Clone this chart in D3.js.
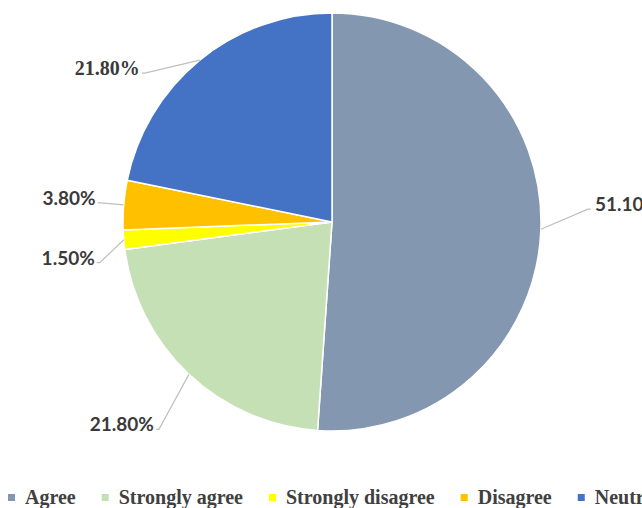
<!DOCTYPE html>
<html>
<head>
<meta charset="utf-8">
<script src="https://cdn.jsdelivr.net/npm/d3@7/dist/d3.min.js"></script>
<style>
  html, body { margin: 0; padding: 0; background: #ffffff; }
  svg { display: block; }
</style>
</head>
<body>
<svg id="chart" width="642" height="508"></svg>
<script>
// Survey responses, share of respondents (%)
const categories = ["Agree", "Strongly agree", "Strongly disagree", "Disagree", "Neutral"];
const values = [51.1, 21.8, 1.5, 3.8, 21.8];
const valueLabels = ["51.10%", "21.80%", "1.50%", "3.80%", "21.80%"];

const colors = ["#8497B0", "#C5E0B4", "#FFFF00", "#FFC000", "#4472C4"];

// Leader-line elbow offsets from each slice's rim point, and label side
const elbowOffsets = [[47, -20], [-30, 55], [-24, 23], [-23, -2], [-55, 13]];
const labelSide = ["start", "end", "end", "end", "end"];
const labelFonts = ["sans", "sans", "sans", "sans", "serif"];

const width = 642, height = 508;
const cx = 332, cy = 222, radius = 209;

const svg = d3.select("#chart");
const g = svg.append("g").attr("transform", `translate(${cx},${cy})`);

const pie = d3.pie().sort(null).value(d => d.value);
const arcs = pie(categories.map((c, i) => ({ name: c, value: values[i], idx: i })));

const arc = d3.arc().innerRadius(0).outerRadius(radius);
const rim = d3.arc().innerRadius(radius).outerRadius(radius);

g.selectAll("path.slice")
  .data(arcs)
  .enter().append("path")
  .attr("class", "slice")
  .attr("d", arc)
  .attr("fill", d => colors[d.data.idx])
  .attr("stroke", "#ffffff")
  .attr("stroke-width", 1.5)
  .attr("stroke-linejoin", "round");

// Leader lines and value labels
arcs.forEach(d => {
  const i = d.data.idx;
  const [px, py] = rim.centroid(d);
  const ex = px + elbowOffsets[i][0];
  const ey = py + elbowOffsets[i][1];
  const side = labelSide[i];
  const tx = side === "start" ? ex + 7 : ex - 5;

  g.append("polyline")
    .attr("points", [[px, py], [ex, ey], [side === "start" ? ex + 3 : ex - 3, ey]].map(p => p.join(",")).join(" "))
    .attr("fill", "none")
    .attr("stroke", "#BFBFBF")
    .attr("stroke-width", 1.2);

  g.append("text")
    .attr("x", tx)
    .attr("y", ey + 2)
    .attr("text-anchor", side)
    .attr("fill", "#3A3A3A")
    .attr("font-family", labelFonts[i] === "serif" ? "'Liberation Serif', 'Times New Roman', serif" : "Lato, 'Open Sans', sans-serif")
    .attr("font-weight", "bold")
    .attr("font-size", labelFonts[i] === "serif" ? 20 : 19)
    .text(valueLabels[i]);
});

// Legend along the bottom
const legend = svg.append("g").attr("transform", "translate(8,504)");
let lx = 0;
categories.forEach((c, i) => {
  const item = legend.append("g").attr("transform", `translate(${lx},0)`);
  item.append("rect")
    .attr("x", 0).attr("y", -10)
    .attr("width", 7).attr("height", 7)
    .attr("fill", colors[i]);
  const t = item.append("text")
    .attr("x", 17).attr("y", 0)
    .attr("fill", "#404040")
    .attr("font-family", "'Liberation Serif', 'Times New Roman', serif")
    .attr("font-weight", "bold")
    .attr("font-size", 20)
    .text(c);
  lx += 17 + t.node().getComputedTextLength() + 26;
});
</script>
</body>
</html>
